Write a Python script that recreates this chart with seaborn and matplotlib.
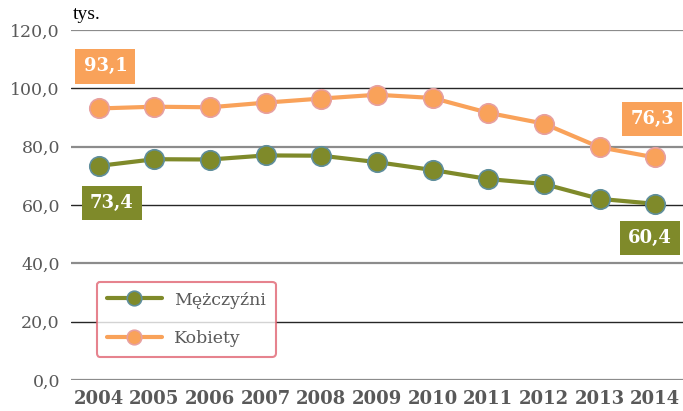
import matplotlib
matplotlib.use("Agg")
import matplotlib.pyplot as plt
import seaborn as sns
import pandas as pd

# --- DATA ---
YEARS = [2004, 2005, 2006, 2007, 2008, 2009, 2010, 2011, 2012, 2013, 2014]
MEN = [73.4, 75.7, 75.6, 77.0, 76.9, 74.7, 72.0, 68.9, 67.2, 62.1, 60.4]
WOMEN = [93.1, 93.7, 93.5, 95.1, 96.5, 97.8, 96.7, 91.6, 87.9, 79.8, 76.3]
SERIES_NAMES = ["Mężczyźni", "Kobiety"]
Y_TICKS = [0, 20, 40, 60, 80, 100, 120]
Y_TICK_LABELS = ["0,0", "20,0", "40,0", "60,0", "80,0", "100,0", "120,0"]
UNIT = "tys."

# --- STYLE ---
GREEN = "#7F8A2A"
GREEN_EDGE = "#5F8E9C"
ORANGE = "#F9A25A"
ORANGE_EDGE = "#E7A0A0"
TICK_GREY = "#595959"

sns.set_theme(style="white")
plt.rcParams["font.family"] = ["DejaVu Serif"]

df = pd.DataFrame({
    "rok": YEARS * 2,
    "wartosc": MEN + WOMEN,
    "plec": [SERIES_NAMES[0]] * len(YEARS) + [SERIES_NAMES[1]] * len(YEARS),
})

fig = plt.figure(figsize=(6.83, 4.11), dpi=100)
ax = fig.add_axes([71 / 683, (411 - 380) / 411, 1 - 71 / 683, 350 / 411])

# gridlines: dark at 20/60/100, grey at the others (as in the original)
for t in Y_TICKS:
    dark = t in (20, 60, 100)
    ax.axhline(t, color="#262626" if dark else "#8C8C8C", lw=1.0 if dark else 1.6, zorder=0)

for name, color, edge in [(SERIES_NAMES[0], GREEN, GREEN_EDGE),
                          (SERIES_NAMES[1], ORANGE, ORANGE_EDGE)]:
    sns.lineplot(data=df[df["plec"] == name], x="rok", y="wartosc", ax=ax,
                 color=color, lw=3.0, marker="o", markersize=14,
                 markeredgecolor=edge, markeredgewidth=1.2, label=name, zorder=3)

ax.set_xlim(2003.5, 2014.5)
ax.set_ylim(0, 120)
ax.set_xticks(YEARS)
ax.set_xticklabels([str(y) for y in YEARS], fontsize=13, fontweight="bold", color=TICK_GREY)
ax.set_yticks(Y_TICKS)
ax.set_yticklabels(Y_TICK_LABELS, fontsize=12.5, color=TICK_GREY)
ax.tick_params(axis="both", length=0)
ax.tick_params(axis="y", pad=8)
ax.tick_params(axis="x", pad=7)
ax.set_xlabel("")
ax.set_ylabel("")
for s in ax.spines.values():
    s.set_visible(False)

# value labels at the ends of both series
def value_label(x, y, val, color):
    ax.text(x, y, f"{val:.1f}".replace(".", ","), ha="center", va="center",
            fontsize=13, fontweight="bold", color="white", zorder=5,
            bbox=dict(boxstyle="square,pad=0.45", facecolor=color, edgecolor="none"))

value_label(2004.12, 107.5, WOMEN[0], ORANGE)
value_label(2004.23, 60.7, MEN[0], GREEN)
value_label(2013.95, 89.5, WOMEN[-1], ORANGE)
value_label(2013.90, 48.7, MEN[-1], GREEN)

fig.text(73 / 683, 1 - 19 / 411, UNIT, fontsize=14, color="black", va="baseline",
         family="Liberation Serif")

leg = ax.legend(loc="upper left", bbox_to_anchor=(0.0425, 0.28), fontsize=12.5,
                frameon=True, fancybox=True, handlelength=3.2, labelspacing=1.25,
                borderpad=0.55, handletextpad=0.7, borderaxespad=0, markerscale=0.75)
leg.get_frame().set_edgecolor("#E06472")
leg.get_frame().set_linewidth(1.5)
leg.get_frame().set_facecolor("white")
for txt in leg.get_texts():
    txt.set_color(TICK_GREY)

fig.savefig("out.png", dpi=100)
